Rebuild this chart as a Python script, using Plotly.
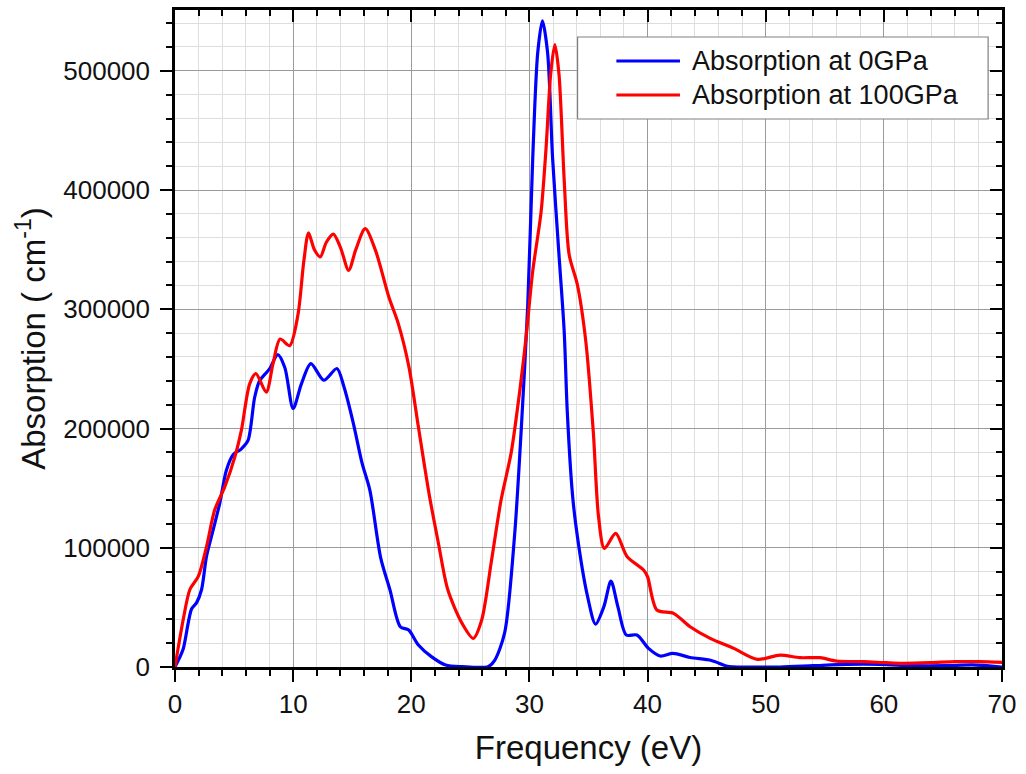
import plotly.graph_objects as go

# ---- data ----
freq_0gpa = [0, 0.35, 0.7, 1.4, 1.83, 2.25, 2.67, 3.23, 3.79, 4.35, 4.92, 5.62, 6.18, 6.74, 7.16, 8.0, 8.7,
             9.3, 10.0, 10.7, 11.5, 12.6, 13.7, 14.3, 15.1, 15.84, 16.5, 17.4, 18.2, 19.07, 19.78, 20.6,
             21.7, 22.9, 24.3, 26.5, 27.06, 27.9, 28.74, 29.3, 29.86, 30.28, 30.7, 31.1, 31.54, 31.96,
             32.5, 32.94, 33.2, 33.64, 34.05, 34.9, 35.6, 36.3, 36.9, 37.5, 38.2, 39.1, 40.08, 41.07,
             42.15, 43.6, 45.4, 46.9, 48.4, 51.2, 54.0, 56.9, 59.7, 62.5, 65.3, 67.5, 70.0]
abs_0gpa = [0, 7000, 15300, 48600, 54000, 65000, 93000, 115000, 137500, 165000, 178000, 183000, 190000,
            226000, 240000, 250000, 262000, 251000, 216800, 237500, 254500, 240500, 250300, 235000,
            204200, 170700, 148000, 92000, 64500, 33800, 31000, 18400, 8700, 1700, 300, 300, 5600, 28600,
            110000, 198000, 304000, 427000, 515000, 542000, 515000, 427000, 346000, 282000, 215000,
            145000, 110000, 60000, 36000, 50600, 72000, 50000, 26800, 26800, 15600, 9200, 11500, 8000,
            5500, 300, 0, 0, 1100, 2200, 2200, 1100, 1100, 1700, 0]

freq_100gpa = [0, 0.7, 1.26, 1.97, 2.67, 3.37, 4.21, 5.06, 5.62, 6.32, 6.85, 7.72, 8.29, 8.9, 9.7, 10.4,
               10.9, 11.3, 11.8, 12.3, 12.8, 13.4, 14.0, 14.7, 15.3, 16.1, 16.97, 18.1, 18.9, 19.8, 20.6,
               21.5, 22.3, 23.1, 24.3, 25.25, 25.96, 26.8, 27.6, 28.46, 29.2, 29.7, 30.28, 30.98, 31.4,
               31.8, 32.15, 32.5, 32.94, 33.36, 34.05, 34.75, 35.4, 35.85, 36.35, 37.3, 38.26, 39.66,
               40.0, 40.79, 42.2, 43.6, 45.3, 47.3, 49.3, 51.2, 52.9, 54.6, 56.0, 58.3, 60.2, 61.6, 63.9,
               66.1, 68.1, 70.0]
abs_100gpa = [0, 40000, 65000, 76000, 101000, 132000, 151000, 176000, 198600, 237500, 246000, 230500,
              254000, 275000, 269500, 295000, 340000, 364000, 350000, 344000, 356000, 363000, 352000,
              332700, 350000, 367600, 349400, 310300, 288000, 251700, 201400, 145500, 103600, 64500,
              36600, 24000, 39400, 90000, 140000, 180000, 233000, 275000, 332000, 381000, 434000, 497500,
              522000, 497500, 409000, 346000, 321000, 275000, 198000, 126000, 99400, 112000, 92700,
              81300, 75700, 47800, 45000, 33800, 24000, 15600, 6400, 10000, 7800, 7800, 5000, 4500, 3600,
              3100, 3600, 4500, 4500, 3900]

series_names = ["Absorption at 0GPa", "Absorption at 100GPa"]
series_colors = ["#0000FF", "#FF0000"]

x_ticks = [0, 10, 20, 30, 40, 50, 60, 70]
x_ticklabels = ["0", "10", "20", "30", "40", "50", "60", "70"]
y_ticks = [0, 100000, 200000, 300000, 400000, 500000]
y_ticklabels = ["0", "100000", "200000", "300000", "400000", "500000"]

FONT = "Arial, 'Liberation Sans', sans-serif"

fig = go.Figure()
for xs, ys, name, col in [(freq_0gpa, abs_0gpa, series_names[0], series_colors[0]),
                          (freq_100gpa, abs_100gpa, series_names[1], series_colors[1])]:
    fig.add_trace(go.Scatter(x=xs, y=ys, mode="lines", name=name,
                             line=dict(color=col, width=3.2, shape="spline", smoothing=0.8),
                             showlegend=False))

# dummy trace for mirrored (top/right) axes
fig.add_trace(go.Scatter(x=[None], y=[None], xaxis="x2", yaxis="y2", showlegend=False,
                         hoverinfo="skip"))

XR = [0, 70]
YR = [0, 551000]

fig.update_layout(
    width=1026, height=774,
    margin=dict(l=175, r=19, t=10, b=107),
    paper_bgcolor="white", plot_bgcolor="white",
    font=dict(family=FONT, color="#111111"),
    xaxis=dict(range=XR, tickvals=x_ticks, ticktext=x_ticklabels, ticks="outside", ticklen=12,
               tickwidth=2, tickcolor="black", showline=True, linecolor="black", linewidth=2.5,
               showgrid=True, gridcolor="#9a9a9a", gridwidth=1.3, zeroline=False,
               tickfont=dict(size=26, family=FONT, color="#111111"),
               title=dict(text="Frequency (eV)", font=dict(size=33, family=FONT, color="#111111"),
                          standoff=18),
               minor=dict(dtick=2, ticks="outside", ticklen=6, tickwidth=2, tickcolor="black",
                          showgrid=True, gridcolor="#dedede", gridwidth=1)),
    yaxis=dict(range=YR, tickvals=y_ticks, ticktext=y_ticklabels, ticks="outside", ticklen=12,
               tickwidth=2, tickcolor="black", showline=True, linecolor="black", linewidth=2.5,
               showgrid=True, gridcolor="#9a9a9a", gridwidth=1.3, zeroline=False,
               ticklabelstandoff=5,
               tickfont=dict(size=26, family=FONT, color="#111111"),
               title=dict(text="Absorption ( cm<sup>-1</sup>)",
                          font=dict(size=33, family=FONT, color="#111111"), standoff=8),
               minor=dict(dtick=20000, ticks="outside", ticklen=6, tickwidth=2, tickcolor="black",
                          showgrid=True, gridcolor="#dedede", gridwidth=1)),
    xaxis2=dict(range=XR, overlaying="x", side="top", anchor="y", tickvals=x_ticks,
                ticks="inside", ticklen=12, tickwidth=2, tickcolor="black",
                showticklabels=False, showline=True, linecolor="black", linewidth=2.5,
                showgrid=False, zeroline=False,
                minor=dict(dtick=2, ticks="inside", ticklen=6, tickwidth=2, tickcolor="black",
                           showgrid=False)),
    yaxis2=dict(range=YR, overlaying="y", side="right", anchor="x", tickvals=y_ticks,
                ticks="inside", ticklen=12, tickwidth=2, tickcolor="black",
                showticklabels=False, showline=True, linecolor="black", linewidth=2.5,
                showgrid=False, zeroline=False,
                minor=dict(dtick=20000, ticks="inside", ticklen=6, tickwidth=2, tickcolor="black",
                           showgrid=False)),
)

# custom legend (box, sample lines, labels) in paper coordinates
lx0, lx1, ly0, ly1 = 0.4868, 0.9832, 0.8341, 0.9589
fig.add_shape(type="rect", xref="paper", yref="paper", x0=lx0, x1=lx1, y0=ly0, y1=ly1,
              line=dict(color="#808080", width=1.2), fillcolor="white", layer="above")
for i, (name, col) in enumerate(zip(series_names, series_colors)):
    yy = [0.9224, 0.8706][i]
    fig.add_shape(type="line", xref="paper", yref="paper", x0=0.5337, x1=0.6106, y0=yy, y1=yy,
                  line=dict(color=col, width=3), layer="above")
    fig.add_annotation(xref="paper", yref="paper", x=0.623, y=yy, text=name, showarrow=False,
                       xanchor="left", yanchor="middle",
                       font=dict(size=27, family=FONT, color="#111111"))

fig.write_html("out.html")
